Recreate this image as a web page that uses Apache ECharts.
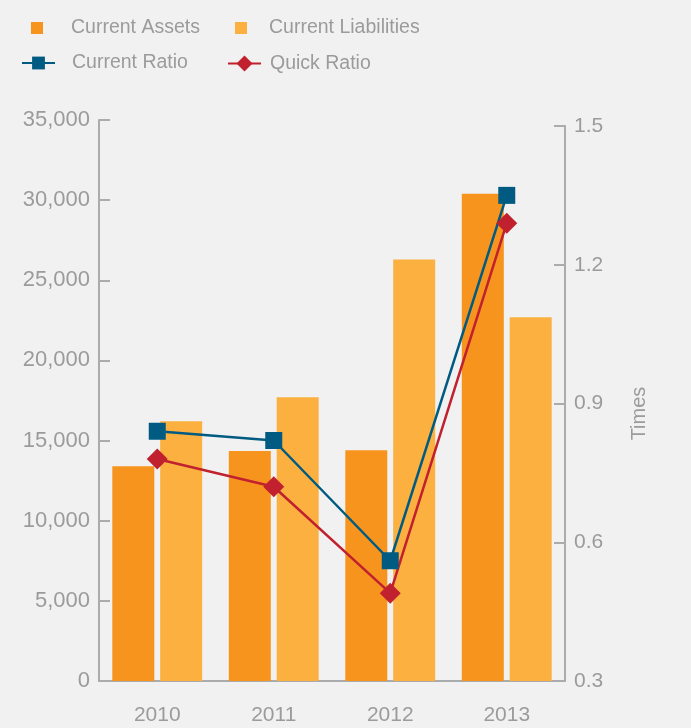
<!DOCTYPE html>
<html>
<head>
<meta charset="utf-8">
<script src="https://cdn.jsdelivr.net/npm/echarts@6/dist/echarts.min.js"></script>
<style>
  html, body { margin: 0; padding: 0; background: #f0f1f0; }
  #chart { width: 691px; height: 728px; }
</style>
</head>
<body>
<div id="chart"></div>
<script>
// Fiscal years on the category axis
const years = ['2010', '2011', '2012', '2013'];
// Balance-sheet amounts (left axis)
const currentAssets = [13400, 14350, 14400, 30400];
const currentLiabilities = [16200, 17700, 26300, 22700];
// Liquidity ratios in times (right axis)
const currentRatio = [0.84, 0.82, 0.56, 1.35];
const quickRatio = [0.78, 0.72, 0.49, 1.29];
// Tick settings
const amountTicks = { min: 0, max: 35000, interval: 5000 };
const ratioTicks = { min: 0.3, max: 1.5, interval: 0.3 };

const FONT = 'Liberation Sans';
const GREY = '#9b9b9b';
const AXIS = '#a9abad';
const C_ASSETS = '#f7941e';
const C_LIAB = '#fbb040';
const C_CR = '#005b82';
const C_QR = '#c1202e';

const chart = echarts.init(document.getElementById('chart'), null, { renderer: 'canvas' });

const legendBase = (name, left, top, w, h, padLeft) => ({
  data: [name],
  left: left,
  top: top,
  padding: 0,
  itemWidth: w,
  itemHeight: h,
  textStyle: { color: GREY, fontSize: 19.5, fontFamily: FONT, padding: [0, 0, 0, padLeft] }
});

const axisLineStyle = { color: AXIS, width: 2 };

const option = {
  backgroundColor: '#f0f1f0',
  animation: false,
  textStyle: { fontFamily: FONT },
  legend: [
    Object.assign(legendBase('Current Assets', 31, 18, 12, 12, 23), { icon: 'rect' }),
    Object.assign(legendBase('Current Liabilities', 235, 18, 12, 12, 17), { icon: 'rect' }),
    legendBase('Current Ratio', 21, 53, 33, 16, 12),
    legendBase('Quick Ratio', 227, 53.5, 33, 20, 4)
  ],
  grid: [
    { left: 99, right: 126, top: 120, bottom: 47 },
    { left: 99, right: 126, top: 126, bottom: 47 }
  ],
  xAxis: [
    {
      type: 'category', gridIndex: 0, data: years,
      axisLine: { lineStyle: axisLineStyle },
      axisTick: { inside: true, length: 14, lineStyle: axisLineStyle },
      axisLabel: { color: GREY, fontSize: 21, margin: 24, fontFamily: FONT },
      splitLine: { show: false }
    },
    { type: 'category', gridIndex: 1, data: years, show: false }
  ],
  yAxis: [
    Object.assign({
      type: 'value', gridIndex: 0,
      axisLine: { show: true, lineStyle: axisLineStyle },
      axisTick: { show: true, inside: true, length: 11, lineStyle: axisLineStyle },
      splitLine: { show: false },
      axisLabel: {
        color: GREY, fontSize: 22, margin: 9, fontFamily: FONT,
        formatter: v => v.toLocaleString('en-US')
      }
    }, amountTicks),
    Object.assign({
      type: 'value', gridIndex: 1, position: 'right',
      name: 'Times', nameLocation: 'middle', nameRotate: 90, nameGap: 64,
      nameTextStyle: { color: GREY, fontSize: 20, fontFamily: FONT, padding: [0, 20, 0, 0] },
      axisLine: { show: true, lineStyle: axisLineStyle },
      axisTick: { show: true, inside: true, length: 11, lineStyle: axisLineStyle },
      splitLine: { show: false },
      axisLabel: {
        color: GREY, fontSize: 21, margin: 9, fontFamily: FONT,
        formatter: v => v.toFixed(1)
      }
    }, ratioTicks)
  ],
  series: [
    {
      name: 'Current Assets', type: 'bar', xAxisIndex: 0, yAxisIndex: 0,
      data: currentAssets, barWidth: 42, barGap: '14%',
      itemStyle: { color: C_ASSETS }
    },
    {
      name: 'Current Liabilities', type: 'bar', xAxisIndex: 0, yAxisIndex: 0,
      data: currentLiabilities, barWidth: 42, barGap: '14%',
      itemStyle: { color: C_LIAB }
    },
    {
      name: 'Current Ratio', type: 'line', xAxisIndex: 1, yAxisIndex: 1,
      data: currentRatio, symbol: 'rect', symbolSize: 17, z: 5,
      lineStyle: { color: C_CR, width: 2.5 },
      itemStyle: { color: C_CR, opacity: 1 }
    },
    {
      name: 'Quick Ratio', type: 'line', xAxisIndex: 1, yAxisIndex: 1,
      data: quickRatio, symbol: 'diamond', symbolSize: 21, z: 5,
      lineStyle: { color: C_QR, width: 2.5 },
      itemStyle: { color: C_QR, opacity: 1 }
    }
  ]
};

chart.setOption(option);
</script>
</body>
</html>
